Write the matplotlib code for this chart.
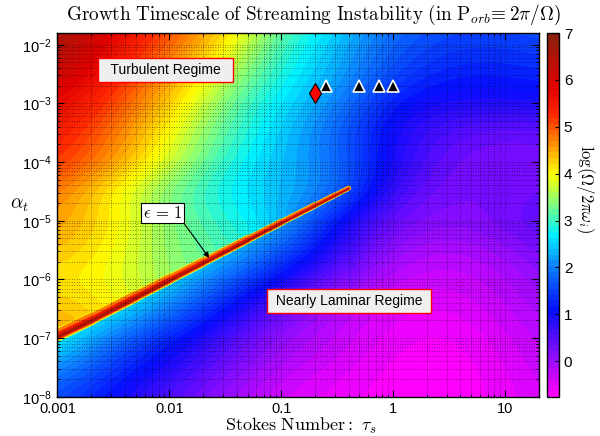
import numpy as np
import matplotlib
matplotlib.use('Agg')
import matplotlib.pyplot as plt
from matplotlib.colors import LinearSegmentedColormap, Normalize
from matplotlib.patches import Polygon

plt.rcParams['font.family'] = ['Liberation Sans', 'DejaVu Sans']
plt.rcParams['mathtext.fontset'] = 'custom'
plt.rcParams['mathtext.rm'] = 'Liberation Sans'
plt.rcParams['mathtext.it'] = 'Liberation Sans:italic'
plt.rcParams['mathtext.bf'] = 'Liberation Sans:bold'

# grid nodes: log10(tau_s) columns, log10(alpha_t) rows (top to bottom)
log_tau = [-3.0, -2.5, -2.0, -1.5, -1.0, -0.5, 0.0, 0.5, 1.0, 1.5]
log_alpha = [-1.5, -2.0, -2.5, -3.0, -3.5, -4.0, -4.5, -5.0, -5.5, -6.0, -6.5, -7.0, -7.5, -8.0]

# log growth time, side above the eps=1 ridge
growth_upper = [
    [6.9, 6.0, 5.2, 4.4, 3.3, 2.6, 1.9, 1.65, 1.65, 1.75],
    [6.6, 5.7, 4.9, 4.1, 3.0, 2.4, 1.75, 1.45, 1.45, 1.55],
    [6.3, 5.4, 4.6, 3.7, 2.8, 2.3, 1.55, 1.2, 1.2, 1.3],
    [5.8, 5.1, 4.3, 3.3, 2.6, 2.1, 1.1, 0.9, 0.9, 1.0],
    [5.5, 4.8, 4.0, 3.1, 2.5, 1.8, 0.9, 0.5, 0.3, 0.4],
    [5.3, 4.6, 3.8, 2.9, 2.4, 1.9, 0.9, 0.3, 0.2, 0.3],
    [4.8, 4.0, 3.3, 2.7, 2.4, 2.0, 0.6, 0.2, 0.2, 0.4],
    [4.6, 4.1, 3.4, 2.9, 2.5, 1.0, 0.3, 0.1, 0.3, 0.6],
    [4.4, 4.0, 3.4, 3.1, 2.6, 0.8, 0.0, -0.2, 0.0, 0.4],
    [4.1, 3.9, 3.5, 3.2, 2.6, 0.2, -0.3, -0.4, -0.2, 0.2],
    [4.4, 4.1, 3.6, 3.2, 0.4, -0.2, -0.5, -0.55, -0.3, 0.0],
    [4.6, 4.2, 3.6, 3.2, 0.0, -0.3, -0.6, -0.7, -0.45, -0.1],
    [4.7, 4.2, 3.6, 3.2, -0.2, -0.45, -0.7, -0.75, -0.55, -0.2],
    [4.8, 4.2, 3.6, 3.2, -0.45, -0.6, -0.72, -0.76, -0.6, -0.3],
]
# same map, side below the ridge
growth_lower = [
    [2.9, 2.8, 2.7, 2.6, 2.5, 2.6, 1.9, 1.65, 1.65, 1.75],
    [2.9, 2.8, 2.7, 2.6, 2.5, 2.4, 1.75, 1.45, 1.45, 1.55],
    [2.9, 2.8, 2.7, 2.6, 2.5, 2.3, 1.55, 1.2, 1.2, 1.3],
    [2.9, 2.8, 2.7, 2.6, 2.5, 2.1, 1.1, 0.9, 0.9, 1.0],
    [2.9, 2.8, 2.7, 2.6, 2.5, 1.8, 0.9, 0.5, 0.3, 0.4],
    [2.9, 2.8, 2.7, 2.6, 2.5, 1.9, 0.9, 0.3, 0.2, 0.3],
    [2.9, 2.8, 2.7, 2.6, 2.5, 2.0, 0.6, 0.2, 0.2, 0.4],
    [2.9, 2.8, 2.7, 2.6, 2.5, 1.0, 0.3, 0.1, 0.3, 0.6],
    [2.9, 2.8, 2.7, 2.6, 1.7, 0.8, 0.0, -0.2, 0.0, 0.4],
    [2.9, 2.8, 2.7, 1.8, 1.0, 0.2, -0.3, -0.4, -0.2, 0.2],
    [2.9, 2.8, 2.0, 1.1, 0.4, -0.2, -0.5, -0.55, -0.3, 0.0],
    [2.9, 1.9, 1.2, 0.6, 0.0, -0.3, -0.6, -0.7, -0.45, -0.1],
    [2.2, 1.4, 0.9, 0.3, -0.2, -0.45, -0.7, -0.75, -0.55, -0.2],
    [1.6, 1.0, 0.5, 0.0, -0.45, -0.6, -0.72, -0.76, -0.6, -0.3],
]

# epsilon = 1 ridge
ridge_tau = [0.001, 0.002, 0.005, 0.01, 0.02, 0.05, 0.1, 0.2, 0.3, 0.4]
ridge_alpha = [1.05e-7, 1.97e-7, 4.8e-7, 9.5e-7, 1.87e-6, 4.57e-6, 9.0e-6, 1.77e-5, 2.63e-5, 3.48e-5]

# simulation points
tri_tau = [0.25, 0.5, 0.75, 1.0]
tri_alpha = [2e-3, 2e-3, 2e-3, 2e-3]
dia_tau = [0.2]
dia_alpha = [1.5e-3]

x_ticks = [0.001, 0.01, 0.1, 1, 10]
x_ticklabels = ['0.001', '0.01', '0.1', '1', '10']
y_exps = [-8, -7, -6, -5, -4, -3, -2]

vmin, vmax = -0.76, 7.0
cnodes = [(-0.76, (1.0, 0.0, 1.0)), (0.0, (0.58, 0.05, 1.0)), (1.05, (0.02, 0.05, 1.0)),
          (2.0, (0.05, 0.5, 1.0)), (2.7, (0.0, 0.95, 1.0)), (3.35, (0.5, 1.0, 0.5)),
          (4.0, (1.0, 1.0, 0.0)), (4.6, (1.0, 0.6, 0.0)), (5.3, (1.0, 0.15, 0.0)),
          (5.9, (0.88, 0.0, 0.0)), (7.0, (0.55, 0.13, 0.05))]
cmap = LinearSegmentedColormap.from_list(
    'growth', [((v - vmin) / (vmax - vmin), c) for v, c in cnodes], N=64)
norm = Normalize(vmin, vmax)

fig = plt.figure(figsize=(6, 4.36), dpi=100)
ax = fig.add_axes([0.0958, 0.090, 0.802, 0.834])
cax = fig.add_axes([0.911, 0.090, 0.0205, 0.834])

ext = [log_tau[0] - 0.25, log_tau[-1] + 0.25, log_alpha[-1] - 0.25, log_alpha[0] + 0.25]
im = ax.imshow(growth_upper, extent=ext, origin='upper', cmap=cmap, norm=norm,
               interpolation='bicubic', interpolation_stage='data',
               aspect='auto', zorder=0)
im_low = ax.imshow(growth_lower, extent=ext, origin='upper', cmap=cmap, norm=norm,
                   interpolation='bicubic', interpolation_stage='data',
                   aspect='auto', zorder=0.5)

ru = np.log10(ridge_tau)
rw = np.log10(ridge_alpha)
clip_pts = [(-3.5, rw[0] - 0.49)] + list(zip(ru, rw)) + [(ru[-1], -8.6), (-3.5, -8.6)]
clip = Polygon(clip_pts, closed=True, transform=ax.transData, fc='none', ec='none')
ax.add_patch(clip)
im_low.set_clip_path(clip)

# ridge drawn as layered halo (value, px below, px above), tapering toward its tip
px_dec = 58.6
halo = [(3.0, 5.5, 0), (4.0, 4.5, 9), (4.7, 3.5, 8), (5.5, 2.5, 4.5), (6.6, 1.7, 1.7)]
for val, below, above in halo:
    for i in range(len(ru) - 1):
        f = 1 - 0.25 * ((ru[i] + ru[i + 1]) / 2 + 3)
        d = (above - below) / 2 * f / px_dec
        ax.plot(ru[i:i + 2], rw[i:i + 2] + d, color=cmap(norm(val)),
                lw=(above + below) * f * 0.72, solid_capstyle='round', zorder=2)

ax.plot(np.log10(tri_tau), np.log10(tri_alpha), '^', mfc='k', mec='w',
        ms=8, mew=1.2, zorder=5)
ax.plot(np.log10(dia_tau), np.log10(dia_alpha), 'd', mfc='r', mec='k',
        ms=10, mew=0.8, zorder=5)

ax.text(-2.033, -2.433, '  Turbulent Regime  ', ha='center', va='center',
        fontsize=10, zorder=6,
        bbox=dict(boxstyle='square,pad=0.35', fc='#efefef', ec='red', lw=1))
ax.text(-0.395, -6.367, ' Nearly Laminar Regime ', ha='center', va='center',
        fontsize=10, zorder=6,
        bbox=dict(boxstyle='square,pad=0.35', fc='#efefef', ec='red', lw=1))
ax.annotate('', xy=(-1.644, -5.633), xytext=(-1.885, -5.002),
            arrowprops=dict(arrowstyle='-|>', color='k', lw=0.8,
                            mutation_scale=8, shrinkA=0, shrinkB=0), zorder=6)
ax.text(-2.064, -4.865, r'$\epsilon\,=\,1$', ha='center', va='center',
        fontsize=12, math_fontfamily='cm', zorder=7,
        bbox=dict(boxstyle='square,pad=0.1', fc='white', ec='k', lw=0.8))

ax.set_xlim(-3, np.log10(20))
ax.set_ylim(-8, np.log10(0.0158))
ax.set_xticks(np.log10(x_ticks))
ax.set_xticklabels(x_ticklabels, fontsize=10.5)
ax.set_yticks(y_exps)
ax.set_yticklabels([r'$10^{%d}$' % e for e in y_exps], fontsize=10.5)
xminor = [np.log10(k * 10.0 ** n) for n in range(-3, 2) for k in range(2, 10)]
ax.set_xticks([m for m in xminor if m < np.log10(20)], minor=True)
yminor = [np.log10(k * 10.0 ** n) for n in range(-8, -1) for k in range(2, 10)]
ax.set_yticks([m for m in yminor if m < np.log10(0.0158)], minor=True)
ax.tick_params(which='both', direction='in', top=True, right=True, colors='k')
ax.tick_params(which='major', length=5, width=0.8, pad=4)
ax.tick_params(which='minor', length=2.5, width=0.6)
ax.set_axisbelow(False)
ax.grid(which='both', color='k', linestyle=(0, (1, 2.5)), linewidth=0.5, alpha=0.8)
for s in ax.spines.values():
    s.set_linewidth(1.0)

cb = fig.colorbar(im, cax=cax)
cb.set_ticks(range(0, 8))
cb.ax.tick_params(direction='in', length=3, labelsize=11)
cb.outline.set_linewidth(1.0)

fig.text(0.523, 0.966,
         r'$\mathrm{Growth\ Timescale\ of\ Streaming\ Instability\ (in\ P}_{orb}\!\equiv 2\pi/\Omega\mathrm{)}$',
         math_fontfamily='cm', fontsize=13.8, ha='center', va='center')
fig.text(0.502, 0.022, r'$\mathrm{Stokes\ Number:}\ \tau_s$', math_fontfamily='cm',
         fontsize=13, ha='center', va='center')
fig.text(0.032, 0.53, r'$\alpha_t$', math_fontfamily='cm', fontsize=14,
         ha='center', va='center')
fig.text(0.975, 0.566, r'$\log(\Omega/2\pi\omega_i)$', math_fontfamily='cm',
         fontsize=12, ha='center', va='center', rotation=270)

fig.savefig('out.png', dpi=100)
